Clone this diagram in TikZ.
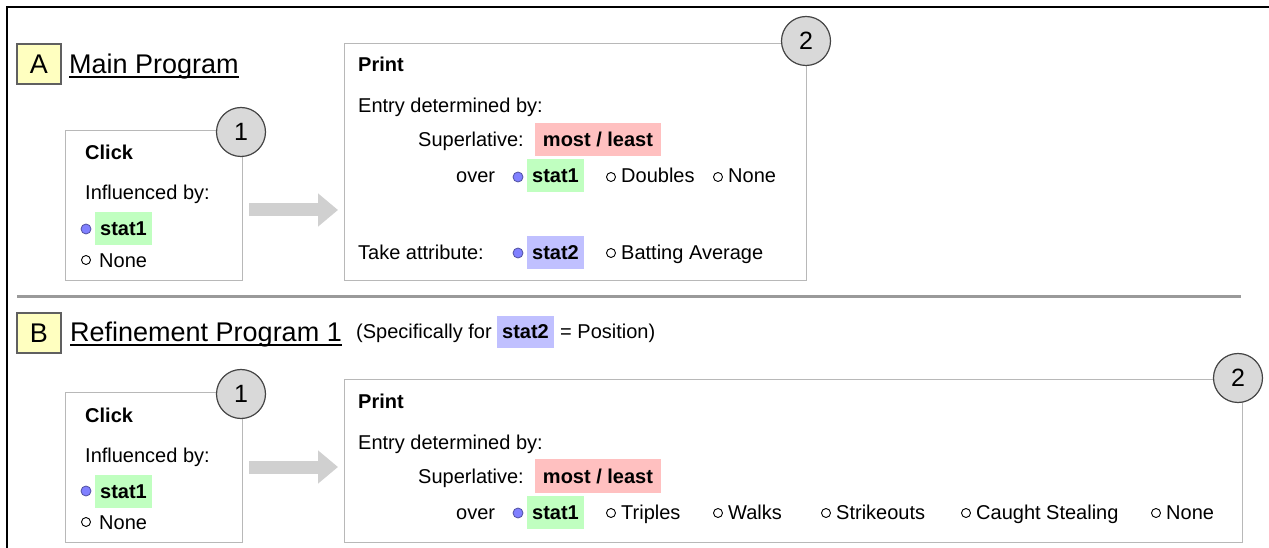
\documentclass[tikz,border=0pt]{standalone}
\usepackage{fontspec}
\setmainfont{Liberation Sans}
\usetikzlibrary{arrows.meta,calc}
\definecolor{yellowbg}{HTML}{FFFFC0}
\definecolor{greenhl}{HTML}{C0FFC0}
\definecolor{pinkhl}{HTML}{FFC0C0}
\definecolor{purplehl}{HTML}{C0C0FF}
\definecolor{dotblue}{HTML}{8080FF}
\definecolor{dotborder}{HTML}{5050A0}
\definecolor{panelgray}{HTML}{B8B8B8}
\definecolor{circfill}{HTML}{D9D9D9}
\definecolor{circgray}{HTML}{444444}
\definecolor{arrowgray}{HTML}{D0D0D0}
\definecolor{sepgray}{HTML}{9A9A9A}
\definecolor{boxborder}{HTML}{606060}
\tikzset{
 txt/.style={anchor=base west, inner sep=0pt, font=\fontsize{20bp}{24bp}\selectfont},
 bold/.style={anchor=base west, inner sep=0pt, font=\fontsize{20bp}{24bp}\selectfont\bfseries},
 small/.style={anchor=base west, inner sep=0pt, font=\fontsize{20bp}{24bp}\selectfont},
 ttl/.style={anchor=base west, inner sep=0pt, font=\fontsize{27bp}{32bp}\selectfont},
 panel/.style={draw=panelgray, line width=1.3bp, fill=white, anchor=north west, inner sep=0pt},
 numcirc/.style={circle, draw=circgray, line width=1.2bp, fill=circfill, minimum size=49bp, inner sep=0pt, font=\fontsize{25bp}{30bp}\selectfont},
 letterbox/.style={draw=boxborder, line width=1.2bp, fill=yellowbg, minimum width=44bp, minimum height=40bp, inner sep=0pt, font=\fontsize{27bp}{32bp}\selectfont},
 hl/.style={anchor=base, inner xsep=0pt, inner ysep=0pt, text height=23.5bp, text depth=9.5bp, font=\fontsize{20bp}{24bp}\selectfont\bfseries},
 radioon/.style={circle, draw=dotborder, fill=dotblue, minimum size=10bp, inner sep=0pt, line width=0.8bp},
 radiooff/.style={circle, draw=black, fill=white, minimum size=9bp, inner sep=0pt, line width=0.9bp},
 bigarrow/.style={draw=arrowgray, line width=13bp, -{Triangle[width=32bp,length=20bp]}},
 uline/.style={line width=1.4bp, black},
}
\begin{document}
\begin{tikzpicture}[x=1bp,y=-1bp]
\useasboundingbox (0,0) rectangle (1269,548);
% outer frame
\draw[line width=1.6bp] (7,548) -- (7,7) -- (1269,7);

% ===== Section A =====
\node[letterbox] (labA) at (39,64) {A};
\node[ttl] (titA) at (69,74) {Main Program};
\draw[uline] ([yshift=-3.2bp]titA.base west) -- ([yshift=-3.2bp]titA.base east);

% Click panel 1
\node[panel, minimum width=177bp, minimum height=150bp] (click1) at (65,130) {};
\node[numcirc] (c1a) at (241,132) {1};
\node[bold] (click1t) at (85,160) {Click};
\node[txt] (infl1) at (85,200) {Influenced by:};
\node[radioon] (r1a) at (86,229) {};
\node[hl, fill=greenhl, minimum width=57bp] (s1a) at (123.5,236) {stat1};
\node[radiooff] (r1b) at (86,260) {};
\node[txt] (none1) at (99,268) {None};

% Print panel 1
\node[panel, minimum width=462bp, minimum height=237bp] (print1) at (344,43) {};
\node[numcirc] (c2a) at (806,41) {2};
\node[bold] (p1t) at (358,72) {Print};
\node[txt] (e1) at (358,113) {Entry determined by:};
\node[txt] (sup1) at (418,147) {Superlative:};
\node[hl, fill=pinkhl, minimum width=126bp] (ml1) at (598,147) {most / least};
\node[txt] (ov1) at (456,183) {over};
\node[radioon] (r2a) at (518,177) {};
\node[hl, fill=greenhl, minimum width=57bp] (s1b) at (555.5,183) {stat1};
\node[radiooff] (r2b) at (611,177) {};
\node[txt] (dbl) at (621,183) {Doubles};
\node[radiooff] (r2c) at (718,177) {};
\node[txt] (non2) at (728,183) {None};
\node[txt] (take) at (358,260) {Take attribute:};
\node[radioon] (r3a) at (518,253) {};
\node[hl, fill=purplehl, minimum width=57bp] (s2a) at (555.5,260) {stat2};
\node[radiooff] (r3b) at (611,253) {};
\node[txt] (bat) at (621,260) {Batting Average};

\coordinate (a1s) at ($(click1.north east)+(6,80)$);
\draw[bigarrow] (a1s) -- ([xshift=-6bp]print1.west |- a1s);

% separator
\draw[sepgray, line width=3bp] (17,297) -- (1241,297);

% ===== Section B =====
\node[letterbox] (labB) at (39,333) {B};
\node[ttl] (titB) at (70,342) {Refinement Program 1};
\draw[uline] ([yshift=-3.2bp]titB.base west) -- ([yshift=-3.2bp]titB.base east);
\node[small] (spec) at (356,339) {(Specifically for};
\node[hl, fill=purplehl, minimum width=57bp, text height=23bp, text depth=9bp] (s2b) at (525.5,339) {stat2};
\node[small] (pos) at (560,339) {= Position)};

% Click panel 2
\node[panel, minimum width=177bp, minimum height=150bp] (click2) at (65,392) {};
\node[numcirc] (c1b) at (241,394) {1};
\node[bold] (click2t) at (85,422) {Click};
\node[txt] (infl2) at (85,462) {Influenced by:};
\node[radioon] (r4a) at (86,491) {};
\node[hl, fill=greenhl, minimum width=57bp] (s1c) at (123.5,498) {stat1};
\node[radiooff] (r4b) at (86,522) {};
\node[txt] (none3) at (99,529) {None};

% Print panel 2
\node[panel, minimum width=898bp, minimum height=163bp] (print2) at (344,379) {};
\node[numcirc] (c2b) at (1238,378) {2};
\node[bold] (p2t) at (358,408) {Print};
\node[txt] (e2) at (358,449) {Entry determined by:};
\node[txt] (sup2) at (418,483) {Superlative:};
\node[hl, fill=pinkhl, minimum width=126bp] (ml2) at (598,483) {most / least};
\node[txt] (ov2) at (456,519) {over};
\node[radioon] (r5a) at (518,513) {};
\node[hl, fill=greenhl, minimum width=57bp] (s1d) at (555.5,519) {stat1};
\node[radiooff] (r5b) at (611,513) {};
\node[txt] (tri) at (621,519) {Triples};
\node[radiooff] (r5c) at (718,513) {};
\node[txt] (wlk) at (728,519) {Walks};
\node[radiooff] (r5d) at (826,513) {};
\node[txt] (stk) at (836,519) {Strikeouts};
\node[radiooff] (r5e) at (966,513) {};
\node[txt] (cs) at (976,519) {Caught Stealing};
\node[radiooff] (r5f) at (1156,513) {};
\node[txt] (non4) at (1166,519) {None};

\coordinate (a2s) at ($(click2.north east)+(6,75)$);
\draw[bigarrow] (a2s) -- ([xshift=-6bp]print2.west |- a2s);
\end{tikzpicture}
\end{document}
